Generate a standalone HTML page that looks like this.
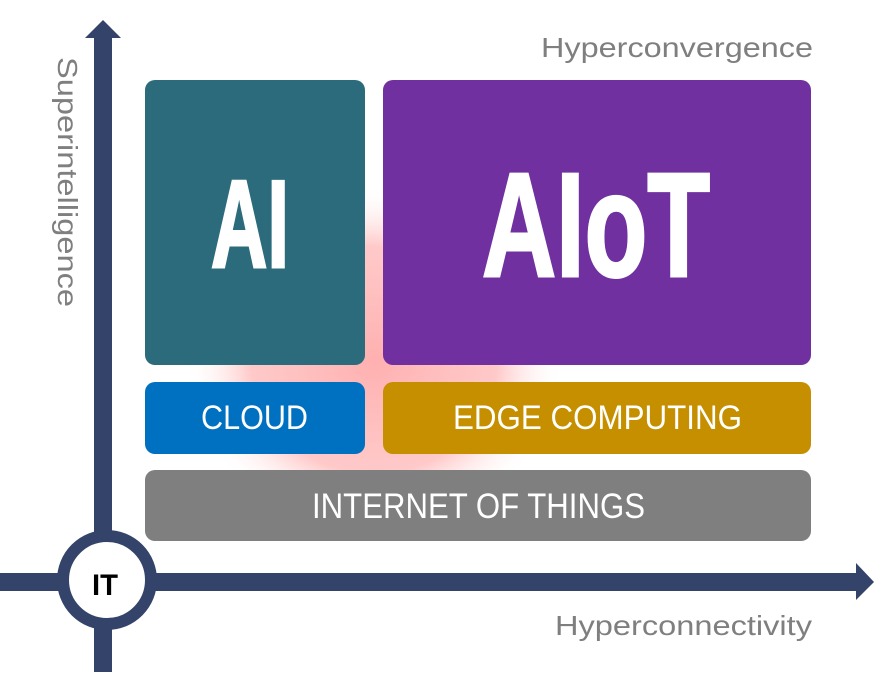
<!DOCTYPE html>
<html><head><meta charset="utf-8"><style>
html,body{margin:0;padding:0;background:#fff;}
svg{display:block;}
text{font-family:"Liberation Sans",sans-serif;}
.n{font-family:"Liberation Sans Narrow","Liberation Sans",sans-serif;font-weight:bold;}
</style></head><body>
<svg width="874" height="674" viewBox="0 0 874 674" xmlns="http://www.w3.org/2000/svg">
<defs>
<radialGradient id="g" cx="50%" cy="50%" r="50%">
<stop offset="0" stop-color="#ffb0b0" stop-opacity="1"/>
<stop offset="0.65" stop-color="#ffc0c0" stop-opacity="0.85"/>
<stop offset="1" stop-color="#ffffff" stop-opacity="0"/>
</radialGradient>
</defs>
<ellipse cx="374" cy="360" rx="190" ry="175" fill="url(#g)"/>
<!-- axes -->
<rect x="94" y="36" width="18" height="636" fill="#344369"/>
<polygon points="85,38 103,20 121,38" fill="#344369"/>
<rect x="0" y="573" width="858" height="18" fill="#344369"/>
<polygon points="856,563 874,582 856,600" fill="#344369"/>
<circle cx="107" cy="580" r="44" fill="#fff" stroke="#344369" stroke-width="12"/>
<text x="92" y="595" font-size="30" class="n" fill="#000" textLength="26" lengthAdjust="spacingAndGlyphs">IT</text>
<!-- boxes -->
<rect x="145" y="80" width="220" height="285" rx="10" fill="#2b6b7b"/>
<rect x="383" y="80" width="428" height="285" rx="10" fill="#70309f"/>
<rect x="145" y="382" width="220" height="72" rx="10" fill="#0070c0"/>
<rect x="383" y="382" width="428" height="72" rx="10" fill="#c58f00"/>
<rect x="145" y="470" width="666" height="71" rx="10" fill="#7f7f7f"/>
<text x="211" y="267" class="n" font-size="124" fill="#fff" stroke="#fff" stroke-width="3" textLength="78" lengthAdjust="spacingAndGlyphs">AI</text>
<text x="482" y="276" class="n" font-size="148" fill="#fff" stroke="#fff" stroke-width="3" textLength="228" lengthAdjust="spacingAndGlyphs">AIoT</text>
<text x="201" y="429" font-size="34" fill="#fff" textLength="107" lengthAdjust="spacingAndGlyphs">CLOUD</text>
<text x="453" y="429" font-size="34" fill="#fff" textLength="289" lengthAdjust="spacingAndGlyphs">EDGE COMPUTING</text>
<text x="312" y="518" font-size="35" fill="#fff" textLength="333" lengthAdjust="spacingAndGlyphs">INTERNET OF THINGS</text>
<text x="541" y="57" font-size="28" fill="#7f7f7f" textLength="272" lengthAdjust="spacingAndGlyphs">Hyperconvergence</text>
<text x="555" y="635" font-size="28" fill="#7f7f7f" textLength="257" lengthAdjust="spacingAndGlyphs">Hyperconnectivity</text>
<text transform="translate(58,57) rotate(90)" x="0" y="0" font-size="28" fill="#7f7f7f" textLength="250" lengthAdjust="spacingAndGlyphs">Superintelligence</text>
</svg>
</body></html>
